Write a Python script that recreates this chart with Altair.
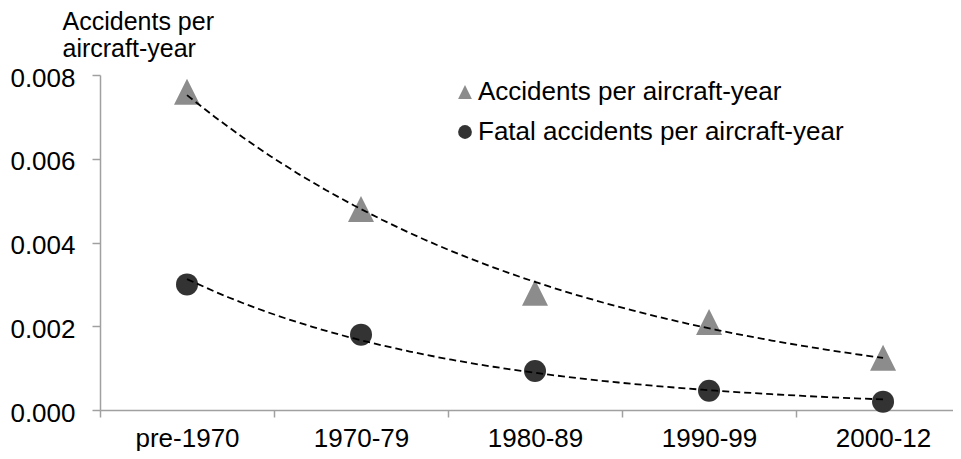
import altair as alt
import pandas as pd

categories = ["pre-1970", "1970-79", "1980-89", "1990-99", "2000-12"]
accidents = [0.0076, 0.0048, 0.0028, 0.0021, 0.00125]
fatal = [0.0030, 0.0018, 0.00093, 0.00046, 0.0002]
series_names = ["Accidents per aircraft-year", "Fatal accidents per aircraft-year"]

rows = []
for name, vals in zip(series_names, [accidents, fatal]):
    for i, (c, v) in enumerate(zip(categories, vals)):
        rows.append({"series": name, "category": c, "idx": i, "value": v})
df = pd.DataFrame(rows)

FONT = "Liberation Sans"
FS = 26
AXIS_COLOR = "#a0a0a0"
TRI = "M0,-1L-1,1L1,1Z"

label_expr = "[" + ",".join("'%s'" % c for c in categories) + "][round(datum.value + 0.5)]"

x_enc = alt.X(
    "idx:Q",
    scale=alt.Scale(domain=[-0.5, 4.402], nice=False, zero=False),
    axis=alt.Axis(
        values=[-0.5, 0.5, 1.5, 2.5, 3.5],
        labelExpr=label_expr,
        labelOffset=87,
        labelFlush=False,
        labelBound=False,
        labelOverlap=False,
        grid=False,
        title=None,
        tickSize=7,
        labelPadding=8,
    ),
)
y_enc = alt.Y(
    "value:Q",
    scale=alt.Scale(domain=[0, 0.008], nice=False),
    axis=alt.Axis(
        values=[0, 0.002, 0.004, 0.006, 0.008],
        format=".3f",
        grid=False,
        tickSize=8,
        labelPadding=17,
        labelOffset=3,
        title=["Accidents per", "aircraft-year"],
        titleAngle=0,
        titleAlign="left",
        titleBaseline="alphabetic",
        titleX=-38,
        titleY=-46,
        titleLineHeight=27,
        titleFontWeight="normal",
        titleFontSize=25,
        titleColor="black",
        titleFont=FONT,
    ),
)

color_enc = alt.Color(
    "series:N",
    scale=alt.Scale(domain=series_names, range=["#8c8c8c", "#333333"]),
    legend=alt.Legend(
        title=None,
        orient="none",
        legendX=352,
        legendY=4,
        labelFontSize=FS,
        labelFont=FONT,
        labelColor="black",
        labelLimit=0,
        symbolSize=190,
        labelOffset=0,
        rowPadding=14,
        padding=0,
        symbolStrokeWidth=0,
    ),
)
shape_enc = alt.Shape(
    "series:N",
    scale=alt.Scale(domain=series_names, range=[TRI, "circle"]),
)

base = alt.Chart(df)
pts_acc = (
    base.transform_filter(alt.datum.series == series_names[0])
    .mark_point(filled=True, opacity=1, strokeWidth=0, size=676)
    .encode(x=x_enc, y=y_enc, color=color_enc, shape=shape_enc)
)
pts_fat = (
    base.transform_filter(alt.datum.series == series_names[1])
    .mark_point(filled=True, opacity=1, strokeWidth=0, size=484)
    .encode(x=x_enc, y=y_enc, color=color_enc, shape=shape_enc)
)

trend = (
    base.transform_regression("idx", "value", groupby=["series"], method="exp")
    .mark_line(color="black", strokeDash=[7, 4], strokeWidth=1.8)
    .encode(x=alt.X("idx:Q"), y=alt.Y("value:Q"), detail="series:N")
)

chart = (
    alt.layer(pts_acc, pts_fat, trend)
    .properties(
        width=853,
        height=335,
        autosize=alt.AutoSizeParams(type="none"),
        padding={"left": 92, "top": 67, "right": 0, "bottom": 41},
    )
    .configure_view(stroke=None)
    .configure_axis(
        domainColor=AXIS_COLOR,
        tickColor=AXIS_COLOR,
        domainWidth=1.5,
        tickWidth=1.5,
        labelFont=FONT,
        labelFontSize=FS,
        labelColor="black",
    )
)

chart.save("out.html", embed_options={"renderer": "svg", "actions": False})
